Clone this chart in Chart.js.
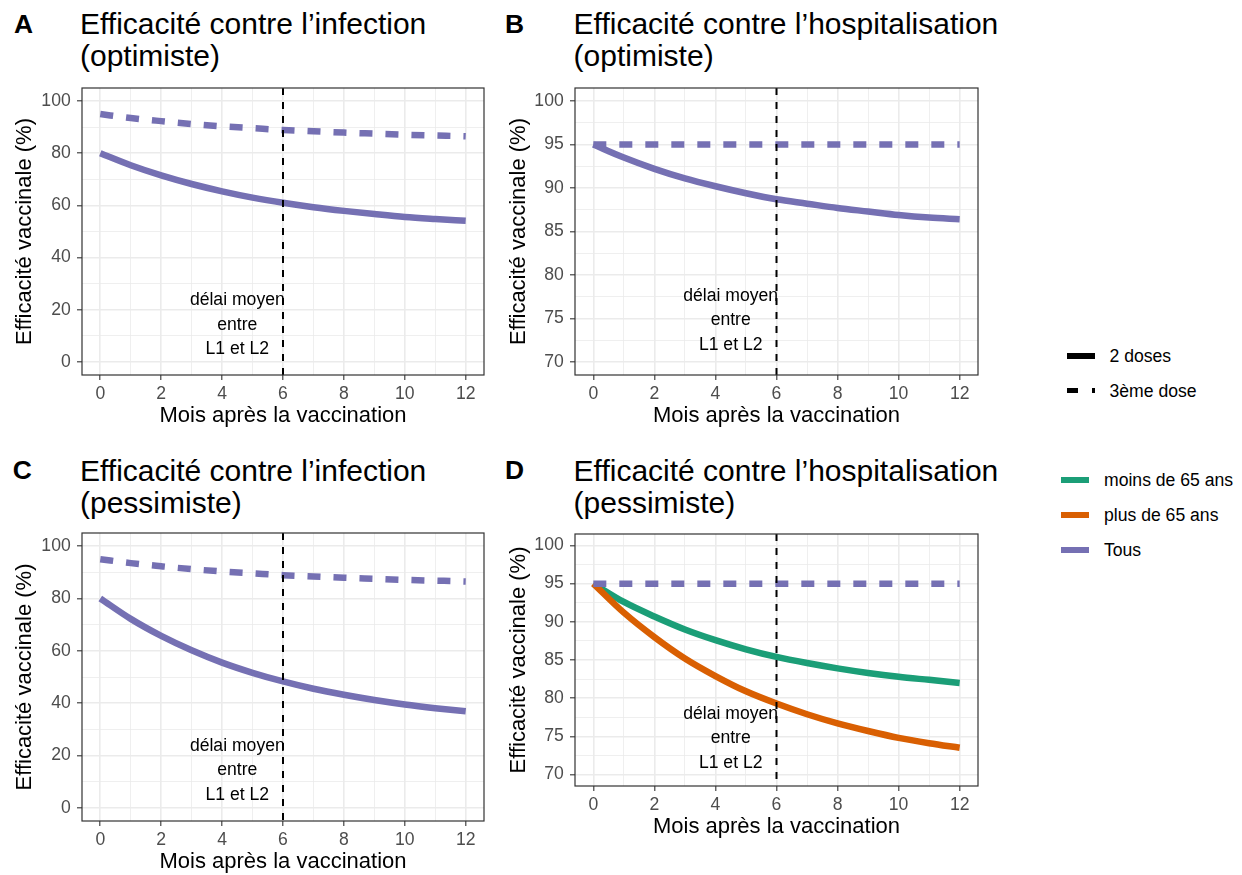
<!DOCTYPE html>
<html lang="fr">
<head>
<meta charset="utf-8">
<title>Efficacité vaccinale</title>
<script src="https://cdn.jsdelivr.net/npm/chart.js@4.4.1/dist/chart.umd.min.js"></script>
<style>
  body { margin: 0; background: #fff; }
  #page { position: relative; width: 1242px; height: 875px; overflow: hidden;
          font-family: "Liberation Sans", Arial, Helvetica, sans-serif; color: #000; }
  #page canvas { position: absolute; }
  .tag { position: absolute; font-weight: bold; font-size: 26.4px; line-height: 32px; }
  .title { position: absolute; font-size: 30px; line-height: 32px; white-space: nowrap; }
  .key { position: absolute; height: 5.5px; }
  .lab { position: absolute; font-size: 17.6px; line-height: 20px; white-space: nowrap; }
</style>
</head>
<body>
<div id="page">
  <div class="tag" style="left:14px;top:8.4px">A</div>
  <div class="title" style="left:80px;top:7.6px">Efficacité contre l’infection<br>(optimiste)</div>
  <div class="tag" style="left:505px;top:8.4px">B</div>
  <div class="title" style="left:573.6px;top:7.6px">Efficacité contre l’hospitalisation<br>(optimiste)</div>
  <div class="tag" style="left:12.7px;top:454.2px">C</div>
  <div class="title" style="left:80px;top:455.3px">Efficacité contre l’infection<br>(pessimiste)</div>
  <div class="tag" style="left:505px;top:454.2px">D</div>
  <div class="title" style="left:573.6px;top:455.3px">Efficacité contre l’hospitalisation<br>(pessimiste)</div>

  <canvas id="panelA" width="500" height="360" style="left:0;top:80px"></canvas>
  <canvas id="panelB" width="500" height="360" style="left:500px;top:80px"></canvas>
  <canvas id="panelC" width="500" height="361" style="left:0;top:525px"></canvas>
  <canvas id="panelD" width="500" height="325" style="left:500px;top:526px"></canvas>

  <!-- legende : schema vaccinal -->
  <div class="key" style="left:1067.3px;top:353px;width:27.7px;background:#000"></div>
  <div class="lab" style="left:1109.5px;top:345.6px">2 doses</div>
  <div class="key" style="left:1067.3px;top:387.7px;width:11px;background:#000"></div>
  <div class="key" style="left:1091.7px;top:387.7px;width:3px;background:#000"></div>
  <div class="lab" style="left:1109.5px;top:380.6px">3ème dose</div>

  <!-- legende : classe d'age -->
  <div class="key" style="left:1061px;top:477.2px;width:28.3px;background:#1B9E77"></div>
  <div class="lab" style="left:1104px;top:470.3px">moins de 65 ans</div>
  <div class="key" style="left:1061px;top:512.2px;width:28.3px;background:#D95F02"></div>
  <div class="lab" style="left:1104px;top:505.3px">plus de 65 ans</div>
  <div class="key" style="left:1061px;top:547.2px;width:28.3px;background:#7570B3"></div>
  <div class="lab" style="left:1104px;top:540.3px">Tous</div>
</div>

<script>
// mois apres la vaccination
const months = [0, 1, 2, 3, 4, 5, 6, 7, 8, 9, 10, 11, 12];
const monthGrid = [0, 1, 2, 3, 4, 5, 6, 7, 8, 9, 10, 11, 12];
const monthTicks = [0, 2, 4, 6, 8, 10, 12];

// axes y
const infGrid = [0, 10, 20, 30, 40, 50, 60, 70, 80, 90, 100];
const infTicks = [0, 20, 40, 60, 80, 100];
const hospGrid = [70, 72.5, 75, 77.5, 80, 82.5, 85, 87.5, 90, 92.5, 95, 97.5, 100];
const hospTicks = [70, 75, 80, 85, 90, 95, 100];

// efficacite (%) par mois
const infOptDeux = [80, 75.4, 71.5, 68.2, 65.4, 63.0, 61.0, 59.3, 57.9, 56.7, 55.6, 54.8, 54.1];
const infOptTroisieme = [95, 93.5, 92.3, 91.2, 90.3, 89.6, 88.9, 88.4, 87.9, 87.5, 87.1, 86.8, 86.5];
const hospOptDeux = [95, 93.5, 92.2, 91.1, 90.2, 89.4, 88.7, 88.2, 87.7, 87.3, 86.9, 86.6, 86.4];
const hospOptTroisieme = [95, 95, 95, 95, 95, 95, 95, 95, 95, 95, 95, 95, 95];
const infPessDeux = [80, 72.2, 65.7, 60.2, 55.5, 51.6, 48.3, 45.5, 43.2, 41.2, 39.5, 38.1, 36.9];
const infPessTroisieme = [95, 93.5, 92.3, 91.2, 90.3, 89.6, 88.9, 88.4, 87.9, 87.5, 87.1, 86.8, 86.5];
const hospPessMoins65 = [95, 92.6, 90.7, 89.0, 87.6, 86.4, 85.4, 84.6, 83.9, 83.3, 82.8, 82.4, 82.0];
const hospPessPlus65 = [95, 91.2, 88.0, 85.2, 82.9, 80.9, 79.3, 77.9, 76.7, 75.7, 74.8, 74.1, 73.5];
const hospPessTroisieme = [95, 95, 95, 95, 95, 95, 95, 95, 95, 95, 95, 95, 95];

// delai moyen entre L1 et L2
const delayMonth = 6;
const delayNote = ['délai moyen', 'entre', 'L1 et L2'];
const delayNoteMonth = 4.5;

const PURPLE = '#7570B3';
const GREEN = '#1B9E77';
const ORANGE = '#D95F02';
const FONT = '"Liberation Sans", Arial, Helvetica, sans-serif';

Chart.defaults.font.family = FONT;
Chart.defaults.color = '#000';

function curve(values, color, dashed) {
  return {
    data: months.map((m, i) => ({ x: m, y: values[i] })),
    borderColor: color,
    borderWidth: 6.5,
    borderDash: dashed ? [13, 13] : [],
    pointRadius: 0,
    cubicInterpolationMode: 'monotone',
    fill: false
  };
}

// cadre du panneau
const panelBox = {
  id: 'panelBox',
  afterDraw(chart) {
    const { ctx, chartArea: a } = chart;
    ctx.save();
    ctx.strokeStyle = '#333333';
    ctx.lineWidth = 1.2;
    ctx.strokeRect(a.left, a.top, a.right - a.left, a.bottom - a.top);
    ctx.restore();
  }
};

// ligne verticale + texte
const delayMarker = {
  id: 'delayMarker',
  afterDatasetsDraw(chart, args, opts) {
    const { ctx, chartArea: a, scales: { x, y } } = chart;
    ctx.save();
    ctx.font = '17.6px ' + FONT;
    ctx.fillStyle = '#000';
    ctx.textAlign = 'center';
    ctx.textBaseline = 'middle';
    const tx = x.getPixelForValue(delayNoteMonth);
    const ty = y.getPixelForValue(opts.noteY) + 2;
    delayNote.forEach((s, i) => ctx.fillText(s, tx, ty + (i - 1) * 24.5));

    const px = x.getPixelForValue(delayMonth);
    ctx.strokeStyle = '#000';
    ctx.lineWidth = 2;
    ctx.setLineDash([7, 7]);
    ctx.beginPath();
    ctx.moveTo(px, a.top);
    ctx.lineTo(px, a.bottom);
    ctx.stroke();
    ctx.restore();
  }
};

function gridOpts(major) {
  const isMajor = c => c.tick && major.includes(c.tick.value);
  return {
    color: '#EBEBEB',
    lineWidth: c => isMajor(c) ? 1.6 : 0.8,
    tickLength: 5,
    tickWidth: 1.1,
    tickColor: c => isMajor(c) ? '#333333' : 'rgba(0,0,0,0)'
  };
}

function panel(p) {
  new Chart(document.getElementById(p.id), {
    type: 'line',
    data: { datasets: p.datasets },
    options: {
      responsive: false,
      animation: false,
      events: [],
      layout: { padding: { top: 8, right: p.padRight, bottom: 0, left: 0 } },
      plugins: {
        legend: { display: false },
        tooltip: { enabled: false },
        delayMarker: { noteY: p.noteY }
      },
      scales: {
        x: {
          type: 'linear',
          min: -0.6,
          max: 12.6,
          afterBuildTicks: s => { s.ticks = monthGrid.map(v => ({ value: v })); },
          afterFit: s => { s.height = 65; s.paddingLeft = 0; s.paddingRight = 0; },
          border: { display: false },
          grid: gridOpts(monthTicks),
          ticks: {
            autoSkip: false,
            maxRotation: 0,
            padding: 3.3,
            color: '#4D4D4D',
            font: { size: 17.6 },
            callback: v => monthTicks.includes(v) ? String(v) : ''
          },
          title: {
            display: true,
            text: 'Mois après la vaccination',
            color: '#000',
            font: { size: 22 },
            padding: { top: 0, bottom: 10.4 }
          }
        },
        y: {
          type: 'linear',
          min: p.yMin,
          max: p.yMax,
          afterBuildTicks: s => { s.ticks = p.yGrid.map(v => ({ value: v })); },
          afterFit: s => { s.width = p.yAxisWidth; s.paddingTop = 0; s.paddingBottom = 0; },
          border: { display: false },
          grid: gridOpts(p.yTicks),
          ticks: {
            autoSkip: false,
            padding: 6.3,
            color: '#4D4D4D',
            font: { size: 17.6 },
            callback: v => p.yTicks.includes(v) ? String(v) : ''
          },
          title: {
            display: true,
            text: 'Efficacité vaccinale (%)',
            color: '#000',
            font: { size: 22 },
            padding: { top: p.yTitlePad, bottom: 0 }
          }
        }
      }
    },
    plugins: [panelBox, delayMarker]
  });
}

panel({
  id: 'panelA', yMin: -5, yMax: 105, yGrid: infGrid, yTicks: infTicks,
  yAxisWidth: 82, padRight: 16, yTitlePad: 12, noteY: 15,
  datasets: [curve(infOptTroisieme, PURPLE, true), curve(infOptDeux, PURPLE, false)]
});
panel({
  id: 'panelB', yMin: 68.5, yMax: 101.5, yGrid: hospGrid, yTicks: hospTicks,
  yAxisWidth: 75, padRight: 22, yTitlePad: 5.3, noteY: 75,
  datasets: [curve(hospOptTroisieme, PURPLE, true), curve(hospOptDeux, PURPLE, false)]
});
panel({
  id: 'panelC', yMin: -5, yMax: 105, yGrid: infGrid, yTicks: infTicks,
  yAxisWidth: 82, padRight: 16, yTitlePad: 12, noteY: 15,
  datasets: [curve(infPessTroisieme, PURPLE, true), curve(infPessDeux, PURPLE, false)]
});
panel({
  id: 'panelD', yMin: 68.5, yMax: 101.5, yGrid: hospGrid, yTicks: hospTicks,
  yAxisWidth: 75, padRight: 22, yTitlePad: 5.3, noteY: 75,
  datasets: [
    curve(hospPessTroisieme, PURPLE, true),
    curve(hospPessPlus65, ORANGE, false),
    curve(hospPessMoins65, GREEN, false)
  ]
});
</script>
</body>
</html>
